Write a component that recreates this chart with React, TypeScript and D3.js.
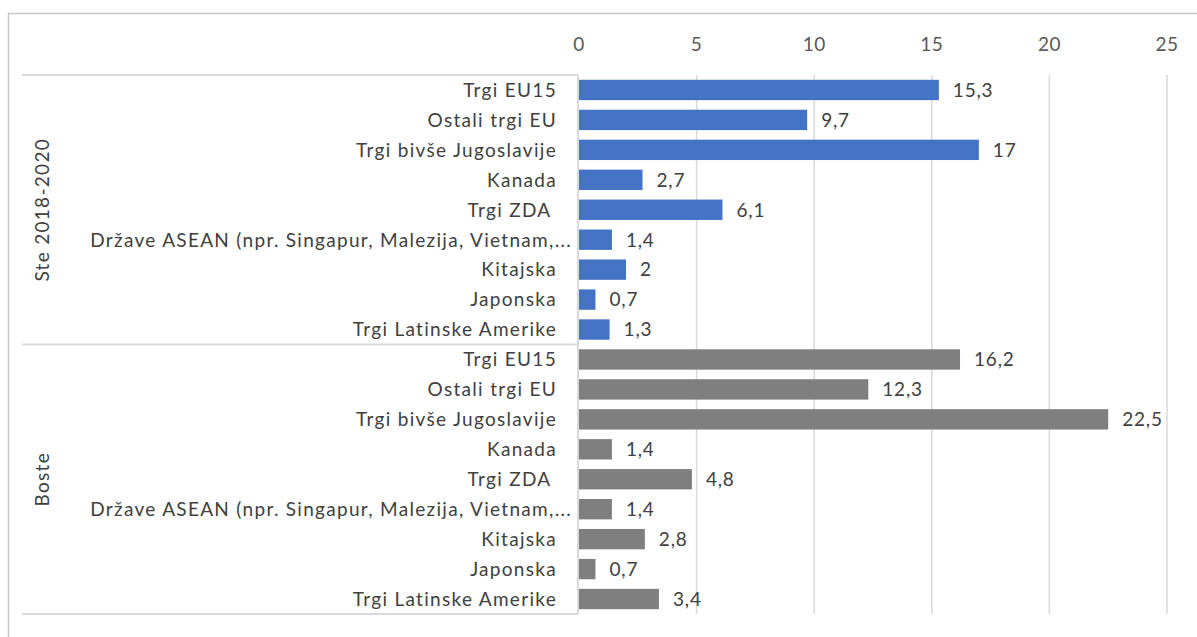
import React, { useEffect, useRef } from "react";
import * as d3 from "d3";

// categories and values
const categories = [
  "Trgi EU15",
  "Ostali trgi EU",
  "Trgi bivše Jugoslavije",
  "Kanada",
  "Trgi ZDA ",
  "Države ASEAN (npr. Singapur, Malezija, Vietnam,...",
  "Kitajska",
  "Japonska",
  "Trgi Latinske Amerike",
];
const groups = ["Ste 2018-2020", "Boste"];
const steValues = [15.3, 9.7, 17, 2.7, 6.1, 1.4, 2, 0.7, 1.3];
const bosteValues = [16.2, 12.3, 22.5, 1.4, 4.8, 1.4, 2.8, 0.7, 3.4];
const groupColors = ["#4472C4", "#7F7F7F"];
const xTicks = [0, 5, 10, 15, 20, 25];

const W = 1197;
const H = 637;
const FONT = "Lato, 'Open Sans', sans-serif";

export default function App() {
  const ref = useRef<SVGSVGElement>(null);

  useEffect(() => {
    const svg = d3.select(ref.current);
    svg.selectAll("*").remove();

    const left = 579, right = 1167, top = 75, bottom = 614;
    const axisLeftX = 22;

    const rows: { key: string; cat: string; value: number; g: number }[] = [];
    [steValues, bosteValues].forEach((vals, g) => {
      vals.forEach((v, i) => rows.push({ key: g + "-" + i, cat: categories[i], value: v, g }));
    });

    const x = d3.scaleLinear().domain([0, 25]).range([left, right]);
    const y = d3.scaleBand().domain(rows.map(r => r.key)).range([top, bottom]).paddingInner(0.32).paddingOuter(0.16);

    // outer chart border (only top + left visible in the crop)
    svg.append("path")
      .attr("d", `M8.5,${H} L8.5,13.5 L${W},13.5`)
      .attr("fill", "none")
      .attr("stroke", "#c8c8c8")
      .attr("stroke-width", 1.5);

    // gridlines
    svg.append("g").selectAll("line")
      .data(xTicks.slice(1))
      .join("line")
      .attr("x1", d => x(d)).attr("x2", d => x(d))
      .attr("y1", top).attr("y2", bottom)
      .attr("stroke", "#d9d9d9")
      .attr("stroke-width", 1.5);

    // tick labels on top
    svg.append("g").selectAll("text")
      .data(xTicks)
      .join("text")
      .attr("x", d => x(d))
      .attr("y", 51)
      .attr("text-anchor", "middle")
      .attr("fill", "#595959")
      .style("font-family", FONT)
      .style("font-size", "19px")
      .style("letter-spacing", "0.5px")
      .text(d => d);

    // category axis box lines
    const sepY = (y(rows[8].key)! + y.bandwidth() + y(rows[9].key)!) / 2;
    const catLines = svg.append("g").attr("stroke", "#d9d9d9").attr("stroke-width", 2);
    [top, sepY, bottom].forEach(yy => {
      catLines.append("line").attr("x1", axisLeftX).attr("x2", left - 1).attr("y1", yy).attr("y2", yy);
    });
    catLines.append("line").attr("x1", left - 1).attr("x2", left - 1).attr("y1", top).attr("y2", bottom);

    // bars
    svg.append("g").selectAll("rect")
      .data(rows)
      .join("rect")
      .attr("x", x(0))
      .attr("y", d => y(d.key)!)
      .attr("width", d => x(d.value) - x(0))
      .attr("height", y.bandwidth())
      .attr("fill", d => groupColors[d.g]);

    // value labels
    svg.append("g").selectAll("text")
      .data(rows)
      .join("text")
      .attr("x", d => x(d.value) + 14)
      .attr("y", d => y(d.key)! + y.bandwidth() / 2)
      .attr("dy", "0.36em")
      .attr("fill", "#404040")
      .style("font-family", FONT)
      .style("font-size", "19px")
      .style("letter-spacing", "0.8px")
      .text(d => String(d.value).replace(".", ","));

    // category labels (the truncated one overflows to the right like in excel)
    svg.append("g").selectAll("text")
      .data(rows)
      .join("text")
      .attr("x", d => (d.cat.endsWith("...") ? 572 : 557))
      .attr("y", d => y(d.key)! + y.bandwidth() / 2)
      .attr("dy", "0.36em")
      .attr("text-anchor", "end")
      .attr("fill", "#404040")
      .style("font-family", FONT)
      .style("font-size", "19px")
      .style("letter-spacing", "1.3px")
      .style("white-space", "pre")
      .text(d => d.cat);

    // group labels (rotated)
    groups.forEach((gName, g) => {
      const y0 = g === 0 ? top : sepY;
      const y1 = g === 0 ? sepY : bottom;
      svg.append("text")
        .attr("transform", `translate(42,${(y0 + y1) / 2}) rotate(-90)`)
        .attr("text-anchor", "middle")
        .attr("dy", "0.36em")
        .attr("fill", "#404040")
        .style("font-family", FONT)
        .style("font-size", "19px")
        .style("letter-spacing", "1.3px")
        .text(gName);
    });
  }, []);

  return (
    <svg ref={ref} width={W} height={H} style={{ position: "absolute", left: 0, top: 0, background: "#fff" }} />
  );
}
